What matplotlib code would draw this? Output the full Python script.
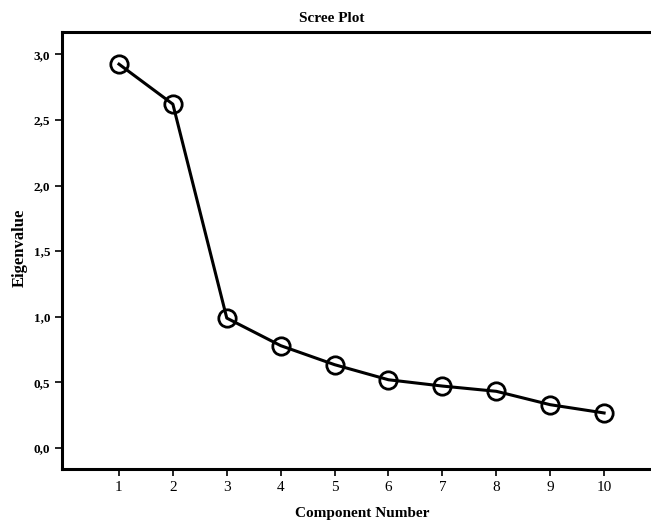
import matplotlib.pyplot as plt

components = [1, 2, 3, 4, 5, 6, 7, 8, 9, 10]
eigenvalues = [2.925, 2.62, 0.99, 0.78, 0.635, 0.52, 0.472, 0.432, 0.33, 0.267]
y_ticks = [0.0, 0.5, 1.0, 1.5, 2.0, 2.5, 3.0]
y_labels = ['0,0', '0,5', '1,0', '1,5', '2,0', '2,5', '3,0']

plt.rcParams['font.family'] = ['Liberation Serif', 'DejaVu Serif']

fig = plt.figure(figsize=(6.51, 5.22), dpi=100)
ax = fig.add_axes([62 / 651, 1 - 469 / 522, 1 - 62 / 651, (469 - 32) / 522])

ax.plot(components, eigenvalues, color='black', linewidth=2.2,
        marker='o', markersize=12.5, markerfacecolor='none',
        markeredgecolor='black', markeredgewidth=2.0)

# axis limits chosen so tick 1 sits at x=119 px and tick 10 at x=604 px
ax.set_xlim(-0.057, 10.87)
ax.set_ylim(-0.16, 3.17)
ax.set_xticks(components)
ax.set_xticklabels([str(c) for c in components], fontsize=11)
ax.set_yticks(y_ticks)
ax.set_yticklabels(y_labels, fontsize=9.5, fontweight='bold')
ax.tick_params(direction='out', length=5, width=1.2, colors='black')

for side in ['left', 'top', 'bottom']:
    ax.spines[side].set_linewidth(2.2)
ax.spines['right'].set_visible(False)

fig.text(332 / 651, 1 - 18 / 522, 'Scree Plot', ha='center', va='center',
         fontsize=11, fontweight='bold')
fig.text(362 / 651, 1 - 513 / 522, 'Component Number', ha='center', va='center',
         fontsize=11, fontweight='bold')
fig.text(20 / 651, 1 - 248 / 522, 'Eigenvalue', ha='center', va='center',
         rotation=90, fontsize=12, fontweight='bold')

fig.savefig('out.png', dpi=100)
